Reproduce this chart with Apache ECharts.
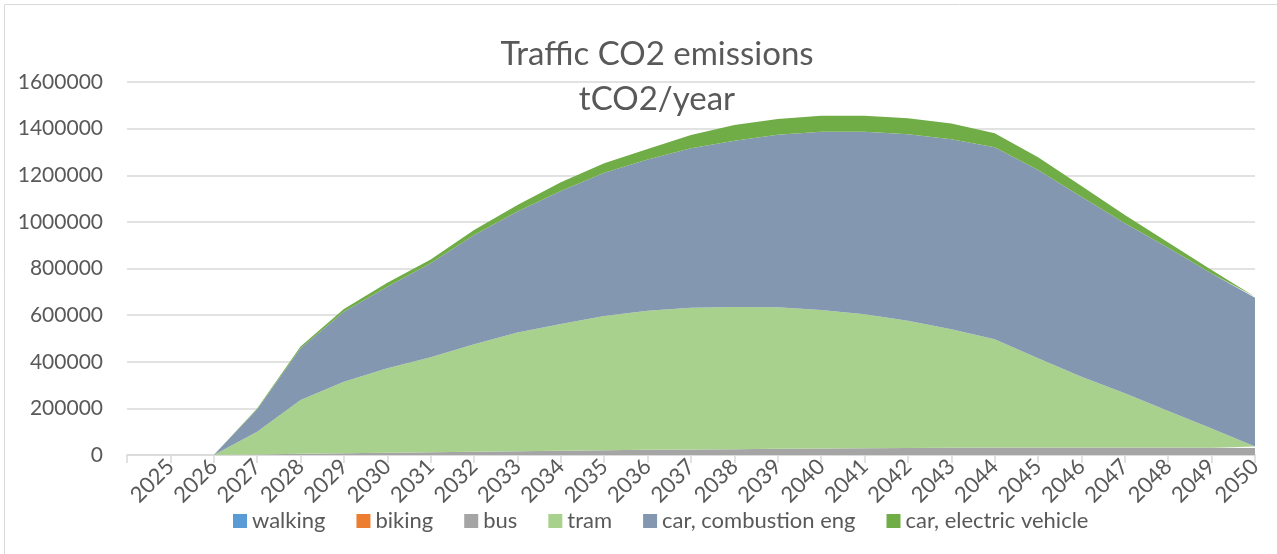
<!DOCTYPE html>
<html>
<head>
<meta charset="utf-8">
<script src="https://cdn.jsdelivr.net/npm/echarts@6/dist/echarts.min.js"></script>
<style>
  html, body { margin: 0; padding: 0; background: #fff; }
  #chart { width: 1277px; height: 554px; }
</style>
</head>
<body>
<div id="chart"></div>
<script>
// first category is an empty slot, like the source sheet
const years = ['', '2025', '2026', '2027', '2028', '2029', '2030', '2031', '2032', '2033', '2034',
    '2035', '2036', '2037', '2038', '2039', '2040', '2041', '2042', '2043', '2044',
    '2045', '2046', '2047', '2048', '2049', '2050'];

const walking = [null, 0, 0, 0, 0, 0, 0, 0, 0, 0, 0, 0, 0, 0, 0, 0, 0, 0, 0, 0, 0, 0, 0, 0, 0, 0, 0];
const biking = [null, 0, 0, 0, 0, 0, 0, 0, 0, 0, 0, 0, 0, 0, 0, 0, 0, 0, 0, 0, 0, 0, 0, 0, 0, 0, 0];
const bus = [null, 0, 0, 2000, 5000, 8000, 10000, 12000, 14000, 16000, 18000,
    20000, 22000, 24000, 25000, 27000, 28000, 29000, 30000, 31000, 32000,
    32000, 32000, 32000, 32000, 31000, 30000];
const tram = [null, 0, 0, 98000, 231000, 306000, 362000, 407000, 461000, 510000, 544000,
    576000, 597000, 608000, 610000, 607000, 594000, 575000, 546000, 508000, 464000,
    383000, 304000, 233000, 157000, 83000, 6000];
const carCombustion = [null, 0, 0, 96000, 222000, 301000, 350000, 403000, 469000, 518000, 570000,
    615000, 649000, 684000, 713000, 740000, 765000, 783000, 800000, 815000, 824000,
    807000, 772000, 729000, 700000, 665000, 639000];
const carElectric = [null, 0, 0, 3000, 7000, 11000, 17000, 17000, 21000, 28000, 38000,
    40000, 45000, 57000, 68000, 67000, 68000, 68000, 68000, 68000, 60000,
    55000, 46000, 35000, 22000, 15000, 4000];

const seriesDefs = [
    { name: 'walking', data: walking, color: '#5B9BD5' },
    { name: 'biking', data: biking, color: '#ED7D31' },
    { name: 'bus', data: bus, color: '#A5A5A5' },
    { name: 'tram', data: tram, color: '#A9D18E' },
    { name: 'car, combustion eng', data: carCombustion, color: '#8497B0' },
    { name: 'car, electric vehicle', data: carElectric, color: '#70AD47' }
];

const textColor = '#595959';
const gridColor = '#D9D9D9';
const font = 'Lato, "Open Sans", sans-serif';

const chart = echarts.init(document.getElementById('chart'));

const option = {
    backgroundColor: '#fff',
    animation: false,
    title: {
        text: 'Traffic CO2 emissions\ntCO2/year',
        left: 652,
        top: 27,
        textAlign: 'center',
        textStyle: {
            color: textColor,
            fontFamily: font,
            fontWeight: 'normal',
            fontSize: 33,
            lineHeight: 45
        }
    },
    legend: {
        data: seriesDefs.map(s => s.name),
        left: 228,
        top: 505,
        itemWidth: 14,
        itemHeight: 14,
        itemGap: 31,
        icon: 'rect',
        textStyle: { color: textColor, fontFamily: font, fontSize: 22 }
    },
    grid: {
        left: 127,
        right: 22,
        top: 82,
        bottom: 99,
        containLabel: false
    },
    xAxis: {
        type: 'category',
        data: years,
        boundaryGap: false,
        axisLine: { lineStyle: { color: gridColor, width: 1.5 } },
        axisTick: { show: true, length: 8, lineStyle: { color: gridColor, width: 1.5 } },
        axisLabel: {
            interval: 0,
            rotate: 45,
            margin: 8,
            color: textColor,
            fontFamily: font,
            fontSize: 22
        },
        splitLine: { show: false }
    },
    yAxis: {
        type: 'value',
        min: 0,
        max: 1600000,
        interval: 200000,
        axisLine: { show: false },
        axisTick: { show: false },
        axisLabel: {
            margin: 24,
            color: textColor,
            fontFamily: font,
            fontSize: 21,
            formatter: v => String(v)
        },
        splitLine: { lineStyle: { color: gridColor, width: 1.5 } }
    },
    graphic: [{
        type: 'rect',
        shape: { x: 4.5, y: 4.5, width: 1400, height: 700 },
        style: { fill: 'none', stroke: gridColor, lineWidth: 1 },
        silent: true
    }],
    series: seriesDefs.map(s => ({
        name: s.name,
        type: 'line',
        stack: 'total',
        data: s.data,
        showSymbol: false,
        symbol: 'none',
        lineStyle: { width: 0 },
        itemStyle: { color: s.color },
        areaStyle: { color: s.color, opacity: 1 }
    }))
};

chart.setOption(option);
</script>
</body>
</html>
